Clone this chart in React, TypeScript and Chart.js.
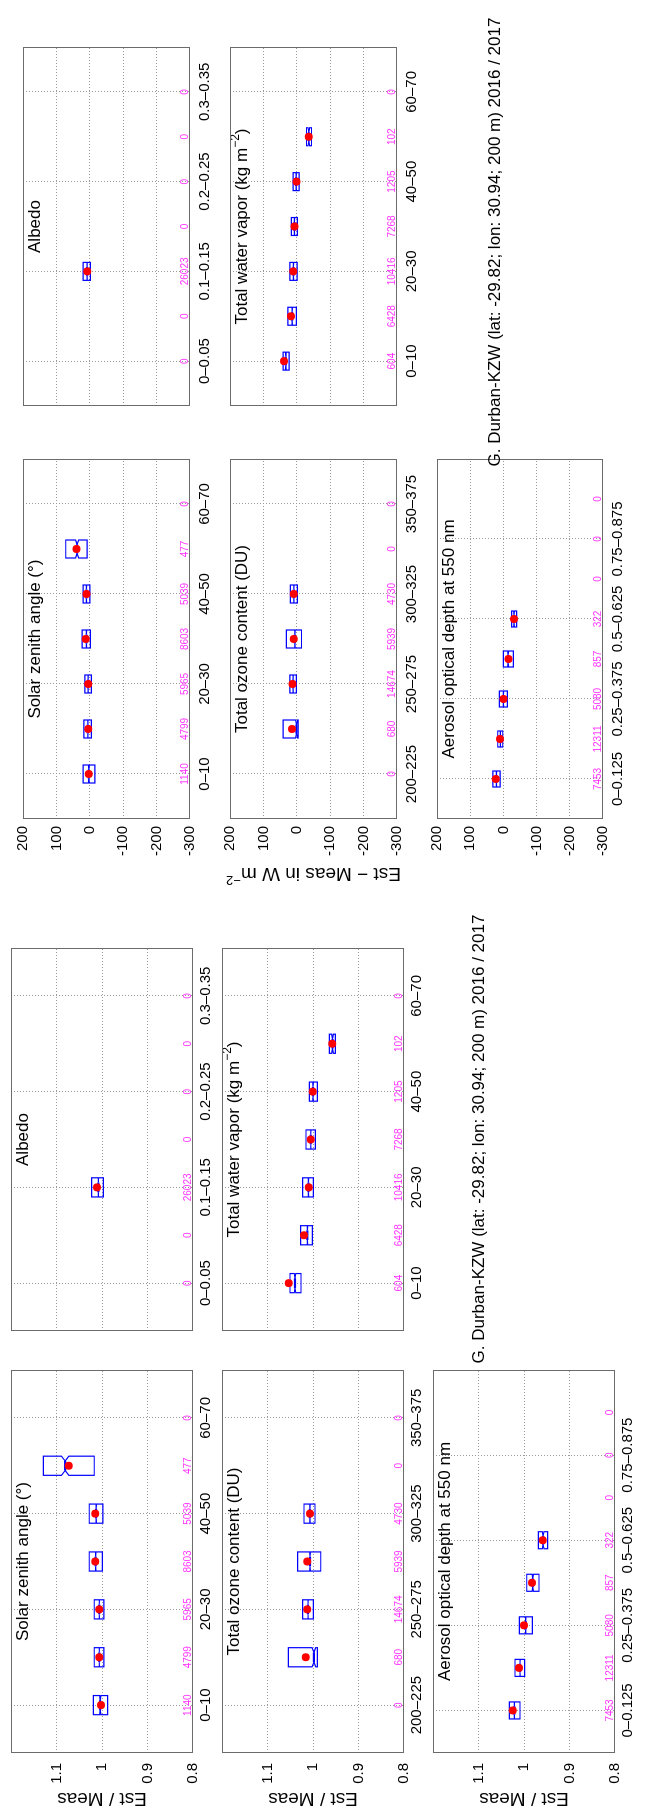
import React, { useEffect, useRef } from 'react';
import { Chart, registerables } from 'chart.js';

Chart.register(...registerables);

const FONT = "'Liberation Sans', Arial, Helvetica, sans-serif";

// ---------------- categories (tick labels) ----------------
const SZA_CATEGORIES = ['0–10', '10–20', '20–30', '30–40', '40–50', '50–60', '60–70'];
const ALBEDO_CATEGORIES = ['0–0.05', '0.05–0.1', '0.1–0.15', '0.15–0.2', '0.2–0.25', '0.25–0.3', '0.3–0.35'];
const OZONE_CATEGORIES = ['200–225', '225–250', '250–275', '275–300', '300–325', '325–350', '350–375'];
const TWV_CATEGORIES = ['0–10', '10–20', '20–30', '30–40', '40–50', '50–60', '60–70'];
const AOD_CATEGORIES = ['0–0.125', '0.125–0.25', '0.25–0.375', '0.375–0.5', '0.5–0.625', '0.625–0.75', '0.75–0.875', '0.875–1'];

// ---------------- sample counts ----------------
const SZA_COUNTS = [1140, 4799, 5965, 8603, 5039, 477, 0];
const ALBEDO_COUNTS = [0, 0, 26023, 0, 0, 0, 0];
const OZONE_COUNTS = [0, 680, 14674, 5939, 4730, 0, 0];
const TWV_COUNTS = [604, 6428, 10416, 7268, 1205, 102, 0];
const AOD_COUNTS = [7453, 12311, 5080, 857, 322, 0, 0, 0];

// ---------------- value axes ----------------
const RATIO_TICKS = [0.8, 0.9, 1, 1.1];
const RATIO_MIN = 0.8;
const RATIO_MAX = 1.2;
const DIFF_TICKS = [-300, -200, -100, 0, 100, 200];
const DIFF_MIN = -300;
const DIFF_MAX = 200;

// ---------------- Est / Meas (ratio) ----------------
const SZA_RATIO_Q1 = [0.9875, 0.996, 0.996, 0.999, 0.998, 1.017, null];
const SZA_RATIO_Q3 = [1.019, 1.017, 1.017, 1.028, 1.028, 1.129, null];
const SZA_RATIO_MED = [1.004, 1.006, 1.006, 1.014, 1.013, 1.081, null];
const SZA_RATIO_MEAN = [1.002, 1.006, 1.006, 1.015, 1.015, 1.073, null];

const ALBEDO_RATIO_Q1 = [null, null, 0.997, null, null, null, null];
const ALBEDO_RATIO_Q3 = [null, null, 1.0226, null, null, null, null];
const ALBEDO_RATIO_MED = [null, null, 1.008, null, null, null, null];
const ALBEDO_RATIO_MEAN = [null, null, 1.011, null, null, null, null];

const OZONE_RATIO_Q1 = [null, 0.9905, 0.9993, 0.983, 0.9956, null, null];
const OZONE_RATIO_Q3 = [null, 1.054, 1.0226, 1.0336, 1.0198, null, null];
const OZONE_RATIO_MED = [null, 0.998, 1.011, 1.0066, 1.007, null, null];
const OZONE_RATIO_MEAN = [null, 1.016, 1.0125, 1.0125, 1.0066, null, null];

const TWV_RATIO_Q1 = [1.0264, 1.0015, 0.9993, 0.995, 0.9905, 0.951, null];
const TWV_RATIO_Q3 = [1.0505, 1.027, 1.0226, 1.0154, 1.008, 0.964, null];
const TWV_RATIO_MED = [1.0396, 1.0125, 1.01, 1.005, 1.0, 0.957, null];
const TWV_RATIO_MEAN = [1.0534, 1.0198, 1.0095, 1.005, 1.0007, 0.9576, null];

const AOD_RATIO_Q1 = [1.0088, 0.9985, 0.9818, 0.967, 0.948, null, null, null];
const AOD_RATIO_Q3 = [1.0323, 1.0198, 1.0103, 0.994, 0.9686, null, null, null];
const AOD_RATIO_MED = [1.0213, 1.0088, 0.9963, 0.981, 0.958, null, null, null];
const AOD_RATIO_MEAN = [1.0248, 1.011, 1.0, 0.9824, 0.959, null, null, null];

// ---------------- Est − Meas (W m-2) ----------------
const SZA_DIFF_Q1 = [-15, -5, -5, -2, 0, 8, null];
const SZA_DIFF_Q3 = [20, 18, 15, 23, 20, 72, null];
const SZA_DIFF_MED = [3, 6, 5, 10, 10, 38, null];
const SZA_DIFF_MEAN = [3, 5, 5, 12, 10, 40, null];

const ALBEDO_DIFF_Q1 = [null, null, -2, null, null, null, null];
const ALBEDO_DIFF_Q3 = [null, null, 20, null, null, null, null];
const ALBEDO_DIFF_MED = [null, null, 8, null, null, null, null];
const ALBEDO_DIFF_MEAN = [null, null, 8, null, null, null, null];

const OZONE_DIFF_Q1 = [null, -4, 1, -14, -2, null, null];
const OZONE_DIFF_Q3 = [null, 41, 21, 31, 19, null, null];
const OZONE_DIFF_MED = [null, 1, 11, 6, 9, null, null];
const OZONE_DIFF_MEAN = [null, 14, 13, 9, 9, null, null];

const TWV_DIFF_Q1 = [23, 1, -1, -2, -7, -44, null];
const TWV_DIFF_Q3 = [41, 27, 21, 16, 11, -29, null];
const TWV_DIFF_MED = [33, 14, 10, 7, 2, -36, null];
const TWV_DIFF_MEAN = [38, 17, 11, 7, 1, -36, null];

const AOD_DIFF_Q1 = [10, 2, -12, -30, -40, null, null, null];
const AOD_DIFF_Q3 = [32, 17, 12, 0, -25, null, null, null];
const AOD_DIFF_MED = [21, 9, 0, -14, -32, null, null, null];
const AOD_DIFF_MEAN = [23, 10, 0, -15, -32, null, null, null];

// ---------------- texts ----------------
type Seg = { t: string; sup?: boolean };
const T_SZA: Seg[] = [{ t: 'Solar zenith angle (°)' }];
const T_ALB: Seg[] = [{ t: 'Albedo' }];
const T_OZO: Seg[] = [{ t: 'Total ozone content (DU)' }];
const T_TWV: Seg[] = [{ t: 'Total water vapor (kg m' }, { t: '−2', sup: true }, { t: ')' }];
const T_AOD: Seg[] = [{ t: 'Aerosol optical depth at 550 nm' }];
const Y_RATIO: Seg[] = [{ t: 'Est / Meas' }];
const Y_DIFF: Seg[] = [{ t: 'Est − Meas in W m' }, { t: '−2', sup: true }];
const SUPTITLE = 'G. Durban-KZW (lat: -29.82; lon: 30.94; 200 m) 2016 / 2017';

// ---------------- styling ----------------
const BOX_HALF = 0.2;
const FRAME = '#6b6b6b';
const GRID = '#9a9a9a';

type PanelSpec = {
  id: string;
  title: Seg[];
  cats: string[];
  counts: number[];
  q1: (number | null)[];
  q3: (number | null)[];
  med: (number | null)[];
  mean: (number | null)[];
  vmin: number;
  vmax: number;
  vticks: number[];
  showV: boolean;
  rect: [number, number, number, number];
  margins: [number, number, number, number];
  vPad: number;
  cPad: number;
  ylabel?: { segs: Seg[]; baseX: number; cy: number };
};

function drawRich(ctx: CanvasRenderingContext2D, segs: Seg[], size: number) {
  // draws centered at (0,0), baseline alphabetic
  const supSize = Math.round(size * 0.7);
  const widths = segs.map((s) => {
    ctx.font = `${s.sup ? supSize : size}px ${FONT}`;
    return ctx.measureText(s.t).width;
  });
  const total = widths.reduce((a, b) => a + b, 0);
  let x = -total / 2;
  ctx.textAlign = 'left';
  ctx.textBaseline = 'alphabetic';
  segs.forEach((s, i) => {
    ctx.font = `${s.sup ? supSize : size}px ${FONT}`;
    ctx.fillText(s.t, x, s.sup ? -size * 0.42 : 0);
    x += widths[i];
  });
}

function ratio(id: string, title: Seg[], cats: string[], counts: number[], q1: any[], q3: any[], med: any[], mean: any[], rect: [number, number, number, number], col: number, ylab: boolean): PanelSpec {
  return {
    id, title, cats, counts, q1, q3, med, mean,
    vmin: RATIO_MIN, vmax: RATIO_MAX, vticks: RATIO_TICKS,
    showV: col === 0,
    rect,
    margins: [col === 0 ? 64 : 20, 12, 10, 34],
    vPad: 10,
    cPad: 4,
    ylabel: ylab ? { segs: Y_RATIO, baseX: 24, cy: (rect[1] + rect[3]) / 2 } : undefined,
  };
}

function diff(id: string, title: Seg[], cats: string[], counts: number[], q1: any[], q3: any[], med: any[], mean: any[], rect: [number, number, number, number], col: number, ylab: boolean): PanelSpec {
  return {
    id, title, cats, counts, q1, q3, med, mean,
    vmin: DIFF_MIN, vmax: DIFF_MAX, vticks: DIFF_TICKS,
    showV: col === 0,
    rect,
    margins: [col === 0 ? 84 : 20, 12, 10, 34],
    vPad: 7,
    cPad: 6,
    ylabel: ylab ? { segs: Y_DIFF, baseX: 949, cy: (rect[1] + rect[3]) / 2 } : undefined,
  };
}

const PANELS: PanelSpec[] = [
  ratio('l1', T_SZA, SZA_CATEGORIES, SZA_COUNTS, SZA_RATIO_Q1, SZA_RATIO_Q3, SZA_RATIO_MED, SZA_RATIO_MEAN, [64, 11, 447, 193], 0, true),
  ratio('l2', T_ALB, ALBEDO_CATEGORIES, ALBEDO_COUNTS, ALBEDO_RATIO_Q1, ALBEDO_RATIO_Q3, ALBEDO_RATIO_MED, ALBEDO_RATIO_MEAN, [486, 11, 869, 193], 1, false),
  ratio('l3', T_OZO, OZONE_CATEGORIES, OZONE_COUNTS, OZONE_RATIO_Q1, OZONE_RATIO_Q3, OZONE_RATIO_MED, OZONE_RATIO_MEAN, [64, 222, 447, 404], 0, true),
  ratio('l4', T_TWV, TWV_CATEGORIES, TWV_COUNTS, TWV_RATIO_Q1, TWV_RATIO_Q3, TWV_RATIO_MED, TWV_RATIO_MEAN, [486, 222, 869, 404], 1, false),
  ratio('l5', T_AOD, AOD_CATEGORIES, AOD_COUNTS, AOD_RATIO_Q1, AOD_RATIO_Q3, AOD_RATIO_MED, AOD_RATIO_MEAN, [64, 433, 447, 615], 0, true),
  diff('r1', T_SZA, SZA_CATEGORIES, SZA_COUNTS, SZA_DIFF_Q1, SZA_DIFF_Q3, SZA_DIFF_MED, SZA_DIFF_MEAN, [998, 23, 1358, 190], 0, false),
  diff('r2', T_ALB, ALBEDO_CATEGORIES, ALBEDO_COUNTS, ALBEDO_DIFF_Q1, ALBEDO_DIFF_Q3, ALBEDO_DIFF_MED, ALBEDO_DIFF_MEAN, [1411, 23, 1770, 190], 1, false),
  diff('r3', T_OZO, OZONE_CATEGORIES, OZONE_COUNTS, OZONE_DIFF_Q1, OZONE_DIFF_Q3, OZONE_DIFF_MED, OZONE_DIFF_MEAN, [998, 230, 1358, 397], 0, true),
  diff('r4', T_TWV, TWV_CATEGORIES, TWV_COUNTS, TWV_DIFF_Q1, TWV_DIFF_Q3, TWV_DIFF_MED, TWV_DIFF_MEAN, [1411, 230, 1770, 397], 1, false),
  diff('r5', T_AOD, AOD_CATEGORIES, AOD_COUNTS, AOD_DIFF_Q1, AOD_DIFF_Q3, AOD_DIFF_MED, AOD_DIFF_MEAN, [998, 437, 1358, 603], 0, false),
];

function zeroPad(s: any) {
  s.paddingLeft = 0;
  s.paddingRight = 0;
  s.paddingTop = 0;
  s.paddingBottom = 0;
}

function Panel({ spec }: { spec: PanelSpec }) {
  const ref = useRef<HTMLCanvasElement>(null);
  const [x0, y0, x1, y1] = spec.rect;
  const [ml, mt, mr, mb] = spec.margins;
  const W = x1 - x0 + ml + mr;
  const H = y1 - y0 + mt + mb;
  const left = x0 - ml;
  const top = y0 - mt;

  useEffect(() => {
    const canvas = ref.current;
    if (!canvas) return;
    const n = spec.cats.length;
    const points: { x: number; y: number }[] = [];
    spec.mean.forEach((m, i) => {
      if (m != null) points.push({ x: i + 1, y: m });
    });
    const catTicks = spec.cats.map((_, i) => i + 1).filter((v) => v % 2 === 1);

    const plugin = {
      id: 'box_' + spec.id,
      beforeDatasetsDraw(chart: any) {
        const { ctx, chartArea: a } = chart;
        const xs = chart.scales.x;
        const ys = chart.scales.y;
        ctx.save();
        // counts
        ctx.font = `10px ${FONT}`;
        ctx.fillStyle = '#ff33ff';
        ctx.textAlign = 'center';
        ctx.textBaseline = 'bottom';
        spec.counts.forEach((c, i) => {
          ctx.fillText(String(c), xs.getPixelForValue(i + 1), a.bottom);
        });
        // boxes
        ctx.strokeStyle = '#0000ff';
        for (let i = 0; i < n; i++) {
          const q1 = spec.q1[i];
          const q3 = spec.q3[i];
          const md = spec.med[i];
          if (q1 == null || q3 == null || md == null) continue;
          const c = i + 1;
          const xc = xs.getPixelForValue(c);
          const hw = xs.getPixelForValue(c + BOX_HALF) - xc;
          const notch = (1.57 * (q3 - q1)) / Math.sqrt(Math.max(spec.counts[i], 1));
          const lo = Math.max(q1, md - notch);
          const hi = Math.min(q3, md + notch);
          const p1 = ys.getPixelForValue(q1);
          const p3 = ys.getPixelForValue(q3);
          const pm = ys.getPixelForValue(md);
          const pl = ys.getPixelForValue(lo);
          const ph = ys.getPixelForValue(hi);
          ctx.lineWidth = 1.2;
          ctx.beginPath();
          ctx.moveTo(xc - hw, p1);
          ctx.lineTo(xc - hw, pl);
          ctx.lineTo(xc - hw / 2, pm);
          ctx.lineTo(xc - hw, ph);
          ctx.lineTo(xc - hw, p3);
          ctx.lineTo(xc + hw, p3);
          ctx.lineTo(xc + hw, ph);
          ctx.lineTo(xc + hw / 2, pm);
          ctx.lineTo(xc + hw, pl);
          ctx.lineTo(xc + hw, p1);
          ctx.closePath();
          ctx.stroke();
          ctx.lineWidth = 2.2;
          ctx.beginPath();
          ctx.moveTo(xc - hw / 2, pm);
          ctx.lineTo(xc + hw / 2, pm);
          ctx.stroke();
        }
        // panel title
        ctx.fillStyle = '#000';
        ctx.translate((a.left + a.right) / 2, a.top + 16.5);
        drawRich(ctx, spec.title, 17);
        ctx.restore();
      },
      afterDatasetsDraw(chart: any) {
        const { ctx, chartArea: a } = chart;
        ctx.save();
        ctx.strokeStyle = FRAME;
        ctx.lineWidth = 1;
        ctx.strokeRect(a.left + 0.5, a.top + 0.5, a.right - a.left - 1, a.bottom - a.top - 1);
        if (spec.ylabel) {
          ctx.fillStyle = '#000';
          ctx.translate(spec.ylabel.baseX - left, spec.ylabel.cy - top);
          ctx.rotate(-Math.PI / 2);
          drawRich(ctx, spec.ylabel.segs, 19);
        }
        ctx.restore();
      },
    };

    const edge = (v: number) => v === spec.vmin || v === spec.vmax;

    const chart = new Chart(canvas, {
      type: 'scatter',
      data: {
        datasets: [
          {
            data: points,
            pointRadius: 4,
            pointHoverRadius: 4,
            pointBackgroundColor: '#ff0000',
            pointBorderWidth: 0,
            borderWidth: 0,
          } as any,
        ],
      },
      options: {
        animation: false,
        responsive: false,
        maintainAspectRatio: false,
        devicePixelRatio: 1,
        events: [],
        layout: { padding: { left: 0, top: mt, right: mr, bottom: 0 } },
        plugins: {
          legend: { display: false },
          tooltip: { enabled: false },
          title: { display: false },
        },
        scales: {
          x: {
            type: 'linear',
            min: 0,
            max: n + 1,
            afterBuildTicks: (s: any) => {
              s.ticks = catTicks.map((v) => ({ value: v }));
            },
            afterFit: (s: any) => {
              s.height = mb;
              zeroPad(s);
            },
            ticks: {
              callback: (v: any) => spec.cats[Math.round(v) - 1] ?? '',
              font: { family: FONT, size: 15 },
              color: '#000',
              padding: spec.cPad,
              maxRotation: 0,
              minRotation: 0,
              autoSkip: false,
            },
            grid: { color: GRID, lineWidth: 1, drawTicks: false },
            border: { display: false, dash: [1, 2] },
          },
          y: {
            type: 'linear',
            min: spec.vmin,
            max: spec.vmax,
            afterBuildTicks: (s: any) => {
              s.ticks = spec.vticks.map((v) => ({ value: v }));
            },
            afterFit: (s: any) => {
              s.width = ml;
              zeroPad(s);
            },
            ticks: {
              display: spec.showV,
              callback: (v: any) => String(v),
              font: { family: FONT, size: 15 },
              color: '#000',
              padding: spec.vPad,
            },
            grid: {
              color: (c: any) => (c.tick && edge(c.tick.value) ? 'rgba(0,0,0,0)' : GRID),
              lineWidth: 1,
              drawTicks: false,
            },
            border: { display: false, dash: [1, 2] },
          },
        },
      } as any,
      plugins: [plugin],
    });
    return () => chart.destroy();
  }, []);

  return (
    <canvas
      ref={ref}
      width={W}
      height={H}
      style={{ position: 'absolute', left, top, width: W, height: H }}
    />
  );
}

function SupTitle({ cx, baseline }: { cx: number; baseline: number }) {
  return (
    <div
      style={{
        position: 'absolute',
        left: cx - 400,
        width: 800,
        top: baseline - 14.4,
        textAlign: 'center',
        fontFamily: FONT,
        fontSize: 17,
        lineHeight: '17px',
        whiteSpace: 'nowrap',
        color: '#000',
      }}
    >
      {SUPTITLE}
    </div>
  );
}

export default function App() {
  return (
    <div
      style={{
        position: 'absolute',
        left: 0,
        top: 0,
        width: 651,
        height: 1817,
        overflow: 'hidden',
        background: '#fff',
      }}
    >
      <div
        style={{
          position: 'absolute',
          left: 0,
          top: 0,
          width: 1817,
          height: 651,
          transformOrigin: '0 0',
          transform: 'translateY(1817px) rotate(-90deg)',
          background: '#fff',
        }}
      >
        {PANELS.map((p) => (
          <Panel key={p.id} spec={p} />
        ))}
        <SupTitle cx={678} baseline={484} />
        <SupTitle cx={1575} baseline={500.5} />
      </div>
    </div>
  );
}
